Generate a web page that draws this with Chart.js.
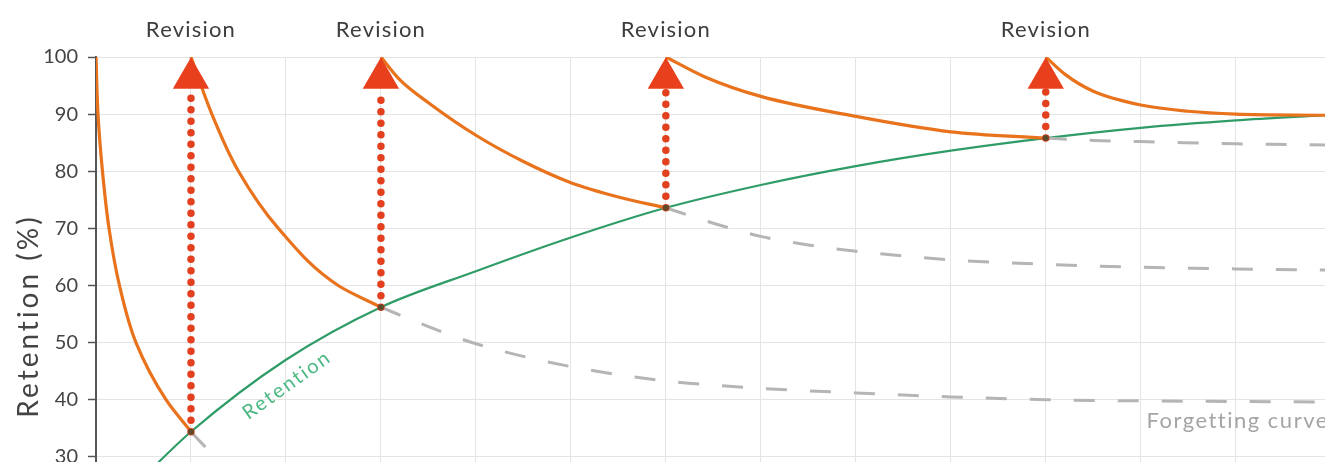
<!DOCTYPE html>
<html>
<head>
<meta charset="utf-8">
<script src="https://cdn.jsdelivr.net/npm/chart.js@4.4.1/dist/chart.umd.min.js"></script>
<style>
  html, body { margin: 0; padding: 0; background: #fff; overflow: hidden; }
  #wrap { position: relative; width: 1325px; height: 496px; }
</style>
</head>
<body>
<div id="wrap"><canvas id="chart"></canvas></div>
<script>
// axis ticks
const xTicks = [0, 1, 2, 3, 4, 5, 6, 7, 8, 9, 10, 11, 12];
const yTicks = [30, 40, 50, 60, 70, 80, 90, 100];

// revision points (x, retention where the arrow starts)
const revisionX = [1, 3, 6, 10];
const revisionY = [34.4, 56.2, 73.6, 85.8];
const arrowTop = 94.4;   // where the dotted shaft meets the triangle
const markerY = 96.3;    // triangle centre

// orange study curves, one per revision period
const study1 = [[0, 100], [0.021, 90], [0.068, 80], [0.137, 70], [0.247, 60], [0.421, 50], [0.737, 40], [1, 34.4]];
const study2 = [[1, 100], [1.22, 90], [1.5, 80], [1.92, 70], [2.55, 60], [3, 56.2]];
const study3 = [[3, 100], [3.2, 96], [3.5, 92], [4, 86.3], [4.5, 81.7], [5, 78], [5.5, 75.5], [6, 73.6]];
const study4 = [[6, 100], [6.4, 96.6], [7, 93.1], [8, 89.6], [9, 86.9], [10, 85.8]];
const study5 = [[10, 100], [10.2, 97], [10.5, 94], [11, 91.6], [11.5, 90.5], [12, 90], [12.94, 89.8]];

// green retention curve
const retention = [[0.5, 26.5], [1, 34.4], [2, 47], [3, 56.2], [4, 62.5], [5, 68.4], [6, 73.6], [7, 77.6],
  [8, 80.9], [9, 83.6], [10, 85.8], [11, 87.6], [12, 88.9], [12.94, 89.8]];

// grey forgetting curves after each revision
const forget1 = [[1, 34.4], [1.3, 29], [1.45, 26]];
const forget2 = [[3, 56.2], [3.5, 52.8], [4, 49.8], [5, 45.8], [6, 43.3], [7, 42], [8, 41.2], [9, 40.5],
  [10, 40], [11, 39.8], [12, 39.7], [12.94, 39.6]];
const forget3 = [[6, 73.6], [6.5, 70.9], [7, 68.6], [7.5, 67.1], [8, 66], [9, 64.5], [10, 63.7], [11, 63.2],
  [12, 62.9], [12.94, 62.7]];
const forget4 = [[10, 85.8], [10.5, 85.4], [11, 85.2], [12, 84.8], [12.94, 84.6]];

const FONT = 'Lato, "Open Sans", sans-serif';
const pts = arr => arr.map(([x, y]) => ({ x, y }));

// monotone spline; steep curves are smoothed along the y axis
const curve = (data, color, width, dash, alongY) => ({
  data: pts(data),
  showLine: true,
  indexAxis: alongY ? 'y' : 'x',
  borderColor: color,
  borderWidth: width,
  borderDash: dash || [],
  cubicInterpolationMode: 'monotone',
  pointRadius: 0,
  fill: false
});

const datasets = [];

// triangles on top
datasets.push({
  data: revisionX.map(x => ({ x, y: markerY })),
  showLine: false,
  pointStyle: 'triangle',
  pointRadius: 21,
  pointBackgroundColor: '#e8401c',
  pointBorderWidth: 0,
  clip: false
});

// dotted arrow shafts
revisionX.forEach((x, i) => {
  datasets.push({
    data: [{ x, y: revisionY[i] }, { x, y: arrowTop }],
    showLine: true,
    borderColor: '#e2401f',
    borderWidth: 7.5,
    borderDash: [0, 11.5],
    borderCapStyle: 'round',
    pointRadius: [3, 0],
    pointBackgroundColor: '#5c4b2b',
    pointBorderWidth: 0
  });
});

datasets.push(curve(study1, '#e9721c', 3.2, null, true));
datasets.push(curve(study2, '#e9721c', 3.2, null, true));
[study3, study4, study5].forEach(s => datasets.push(curve(s, '#e9721c', 3.2)));
[forget1, forget2, forget3, forget4].forEach(f => datasets.push(curve(f, '#b5b5b5', 3, [21, 23])));
datasets.push(curve(retention, '#2f9c68', 2.2));

const textPlugin = {
  id: 'labels',
  afterDraw(chart) {
    const { ctx, scales: { x, y } } = chart;
    ctx.save();

    ctx.fillStyle = '#3d3d3d';
    ctx.font = '22px ' + FONT;
    ctx.letterSpacing = '1.2px';
    ctx.textAlign = 'center';
    ctx.textBaseline = 'middle';
    revisionX.forEach(v => ctx.fillText('Revision', x.getPixelForValue(v), 30));

    // axis title
    ctx.save();
    ctx.translate(29, 316);
    ctx.rotate(-Math.PI / 2);
    ctx.fillStyle = '#444';
    ctx.font = '28px ' + FONT;
    ctx.letterSpacing = '3px';
    ctx.fillText('Retention (%)', 0, 0);
    ctx.restore();

    // curve label along the green line
    ctx.save();
    ctx.translate(x.getPixelForValue(2.01), y.getPixelForValue(42.6));
    ctx.rotate(-0.62);
    ctx.fillStyle = '#4cb884';
    ctx.font = '20px ' + FONT;
    ctx.letterSpacing = '2px';
    ctx.fillText('Retention', 0, 0);
    ctx.restore();

    ctx.fillStyle = '#a5a5a5';
    ctx.font = '22px ' + FONT;
    ctx.letterSpacing = '1.5px';
    ctx.textAlign = 'left';
    ctx.textBaseline = 'alphabetic';
    ctx.fillText('Forgetting curve', x.getPixelForValue(11.06), y.getPixelForValue(35.1));

    ctx.restore();
  }
};

new Chart(document.getElementById('chart'), {
  type: 'scatter',
  data: { datasets },
  options: {
    responsive: true,
    maintainAspectRatio: false,
    animation: false,
    layout: { autoPadding: false, padding: { top: 57, right: 0, bottom: 0, left: 0 } },
    plugins: { legend: { display: false }, tooltip: { enabled: false } },
    scales: {
      x: {
        type: 'linear',
        min: 0,
        max: 12.94,
        afterBuildTicks: s => { s.ticks = xTicks.map(v => ({ value: v })); },
        ticks: { display: false },
        grid: { color: '#e4e4e4', lineWidth: 1, drawTicks: false },
        border: { display: false }
      },
      y: {
        min: 27,
        max: 100,
        afterBuildTicks: s => { s.ticks = yTicks.map(v => ({ value: v })); },
        afterFit: s => { s.width = 96; },
        ticks: { color: '#444', font: { family: FONT, size: 20 }, padding: 10 },
        grid: { color: '#e4e4e4', lineWidth: 1, tickColor: '#555', tickLength: 8, tickWidth: 1.5 },
        border: { color: '#555', width: 2 }
      }
    }
  },
  plugins: [textPlugin]
});
</script>
</body>
</html>
